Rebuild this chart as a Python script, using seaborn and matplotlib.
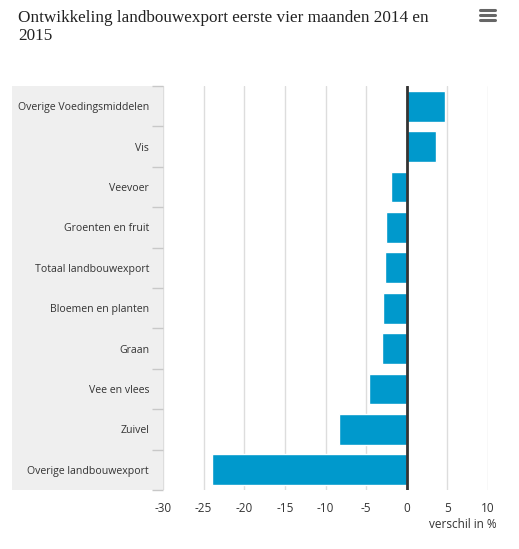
import matplotlib
matplotlib.use("Agg")
import matplotlib.pyplot as plt
import seaborn as sns
import pandas as pd

categories = ["Overige Voedingsmiddelen", "Vis", "Veevoer", "Groenten en fruit",
              "Totaal landbouwexport", "Bloemen en planten", "Graan", "Vee en vlees",
              "Zuivel", "Overige landbouwexport"]
values = [4.7, 3.6, -2.0, -2.5, -2.7, -2.9, -3.1, -4.6, -8.4, -24.0]
xticks = [-30, -25, -20, -15, -10, -5, 0, 5, 10]

df = pd.DataFrame({"cat": categories, "val": values})

sns.set_theme(style="white")
plt.rcParams['font.family'] = ['Open Sans', 'DejaVu Sans']

W, H = 519, 549
fig = plt.figure(figsize=(W/100, H/100), dpi=100)
L, R, T, B = 163, 488, 86, 490

# gray label band (behind the axes)
bg = fig.add_axes([12/W, 1-B/H, (L-12)/W, (B-T)/H], zorder=-5)
bg.set_facecolor("#efefef")
bg.set_xticks([]); bg.set_yticks([])
for s in bg.spines.values():
    s.set_visible(False)

ax = fig.add_axes([L/W, 1-B/H, (R-L)/W, (B-T)/H], zorder=1)

sns.barplot(data=df, x="val", y="cat", orient="h", color="#0099cc", saturation=1,
            width=0.76, ax=ax, zorder=3)
ax.set_xlim(-30, 10)
ax.set_ylim(len(categories)-0.5, -0.5)
ax.set_xticks(xticks)
ax.set_xticklabels([str(t) for t in xticks], fontsize=8.5, color="#333333")
ax.tick_params(axis="x", length=0, pad=9)
ax.set_yticks(range(len(categories)))
ax.set_yticklabels(categories, fontsize=7.6, color="#333333")
ax.tick_params(axis="y", which="major", length=0, pad=10)
ax.set_yticks([i-0.5 for i in range(len(categories)+1)], minor=True)
ax.tick_params(axis="y", which="minor", left=True, length=8, width=1, color="#c8c8c8",
               direction="out")
for s in ax.spines.values():
    s.set_visible(False)
ax.set_facecolor("none")
ax.grid(axis="x", color="#dddddd", linewidth=1, zorder=0)
ax.set_axisbelow(True)
ax.axvline(0, color="#333333", linewidth=2, zorder=4)
ax.set_xlabel("")
ax.set_ylabel("")

fig.text(497/W, 1-524/H, "verschil in %", ha="right", va="center", fontsize=8.5, color="#333333")
fig.text(18/W, 1-27/H, "Ontwikkeling landbouwexport eerste vier maanden 2014 en\n2015",
         ha="left", va="center", fontsize=12.3, color="#222222", family="Liberation Serif",
         linespacing=1.15)
# menu icon
for yy in (10, 15, 20):
    fig.add_artist(plt.Line2D([480/W, 495/W], [1-yy/H, 1-yy/H], color="#666666",
                              linewidth=2.2, transform=fig.transFigure))

fig.savefig("out.png", dpi=100, facecolor="white")
